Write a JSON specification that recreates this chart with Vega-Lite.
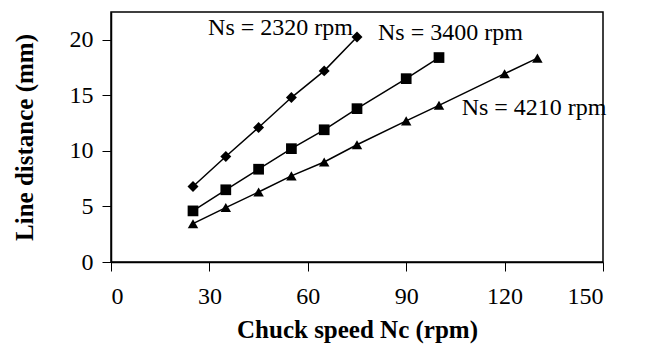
{
  "$schema": "https://vega.github.io/schema/vega-lite/v6.json",
  "autosize": "none",
  "width": 492,
  "height": 250,
  "padding": {"left": 111, "top": 12, "right": 51, "bottom": 85},
  "background": "white",
  "config": {
    "view": {"stroke": "black", "strokeWidth": 1.5},
    "font": "Liberation Serif",
    "axis": {
      "grid": false,
      "domainColor": "black",
      "domainWidth": 1.5,
      "tickColor": "black",
      "tickWidth": 1,
      "tickSize": 9,
      "labelFont": "Liberation Serif",
      "labelFontSize": 24,
      "labelColor": "black",
      "titleFont": "Liberation Serif",
      "titleFontSize": 25,
      "titleFontWeight": "bold",
      "titleColor": "black"
    }
  },
  "datasets": {
    "pts": [
      {"series": "2320", "nc": 25, "dist": 6.8},
      {"series": "2320", "nc": 35, "dist": 9.5},
      {"series": "2320", "nc": 45, "dist": 12.1},
      {"series": "2320", "nc": 55, "dist": 14.8},
      {"series": "2320", "nc": 65, "dist": 17.2},
      {"series": "2320", "nc": 75, "dist": 20.25},
      {"series": "3400", "nc": 25, "dist": 4.6},
      {"series": "3400", "nc": 35, "dist": 6.5},
      {"series": "3400", "nc": 45, "dist": 8.35},
      {"series": "3400", "nc": 55, "dist": 10.2},
      {"series": "3400", "nc": 65, "dist": 11.9},
      {"series": "3400", "nc": 75, "dist": 13.8},
      {"series": "3400", "nc": 90, "dist": 16.5},
      {"series": "3400", "nc": 100, "dist": 18.4},
      {"series": "4210", "nc": 25, "dist": 3.45},
      {"series": "4210", "nc": 35, "dist": 4.9},
      {"series": "4210", "nc": 45, "dist": 6.3},
      {"series": "4210", "nc": 55, "dist": 7.75},
      {"series": "4210", "nc": 65, "dist": 9.0},
      {"series": "4210", "nc": 75, "dist": 10.55},
      {"series": "4210", "nc": 90, "dist": 12.7},
      {"series": "4210", "nc": 100, "dist": 14.1},
      {"series": "4210", "nc": 120, "dist": 16.95},
      {"series": "4210", "nc": 130, "dist": 18.35}
    ],
    "labels": [
      {"text": "Ns = 2320 rpm", "nc": 29.6, "dist": 20.45},
      {"text": "Ns = 3400 rpm", "nc": 81.4, "dist": 20.0},
      {"text": "Ns = 4210 rpm", "nc": 106.9, "dist": 13.25}
    ]
  },
  "layer": [
    {
      "data": {"name": "pts"},
      "mark": {"type": "line", "color": "black", "strokeWidth": 1.5},
      "encoding": {
        "x": {"field": "nc", "type": "quantitative", "scale": {"domain": [0, 150], "nice": false}, "axis": {"values": [0, 30, 60, 90, 120, 150], "title": "Chuck speed Nc (rpm)", "labelFont": "Liberation Serif", "titleFont": "Liberation Serif", "labelPadding": 13, "titlePadding": 9}},
        "y": {"field": "dist", "type": "quantitative", "scale": {"domain": [0, 22.5], "nice": false}, "axis": {"values": [0, 5, 10, 15, 20], "title": "Line distance (mm)", "labelFont": "Liberation Serif", "titleFont": "Liberation Serif", "labelPadding": 9, "titlePadding": 32}},
        "detail": {"field": "series", "type": "nominal"}
      }
    },
    {
      "data": {"name": "pts"},
      "mark": {"type": "point", "filled": true, "color": "black", "opacity": 1},
      "encoding": {
        "x": {"field": "nc", "type": "quantitative"},
        "y": {"field": "dist", "type": "quantitative"},
        "shape": {"field": "series", "type": "nominal", "scale": {"domain": ["2320", "3400", "4210"], "range": ["diamond", "square", "triangle-up"]}, "legend": null},
        "size": {"field": "series", "type": "nominal", "scale": {"domain": ["2320", "3400", "4210"], "range": [120, 110, 140]}, "legend": null}
      }
    },
    {
      "data": {"name": "labels"},
      "mark": {"type": "text", "align": "left", "baseline": "alphabetic", "font": "Liberation Serif", "fontSize": 24, "color": "black"},
      "encoding": {
        "x": {"field": "nc", "type": "quantitative"},
        "y": {"field": "dist", "type": "quantitative"},
        "text": {"field": "text"}
      }
    }
  ]
}
